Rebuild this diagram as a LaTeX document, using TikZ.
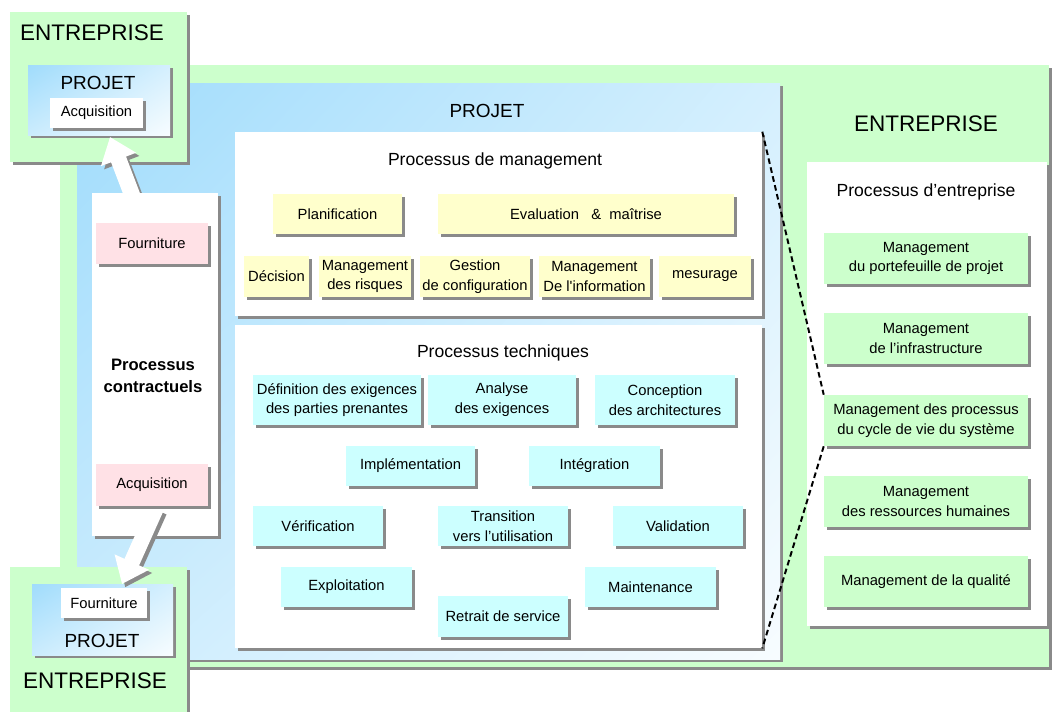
\documentclass[tikz,border=0pt]{standalone}
\usepackage{fontspec}
\setmainfont{Liberation Sans}
\usetikzlibrary{shadows,shadings,arrows.meta}

\definecolor{entgreen}{HTML}{CCFFCC}
\definecolor{projblue}{HTML}{A0DCFC}
\definecolor{mgtyellow}{HTML}{FFFFCC}
\definecolor{techcyan}{HTML}{CCFFFF}
\definecolor{contpink}{HTML}{FFE1E6}
\definecolor{shadegray}{HTML}{8A8A8A}

\tikzset{
  sz/.style 2 args={minimum width=#1*0.025cm, minimum height=#2*0.025cm},
  shad/.style={general shadow={fill=shadegray, shadow xshift=0.08cm, shadow yshift=-0.08cm}},
  box/.style={shad, inner sep=0pt, align=center, font=\fontsize{10.5}{14}\selectfont},
  ybox/.style={box, fill=mgtyellow},
  cbox/.style={box, fill=techcyan},
  gbox/.style={box, fill=entgreen},
  pbox/.style={box, fill=contpink},
  wbox/.style={box, fill=white},
  panel/.style={shad, inner sep=0pt},
  projfill/.style={upper left=projblue, lower left=projblue!55!white,
    upper right=projblue!45!white, lower right=projblue!8!white},
  title/.style={font=\fontsize{12.5}{15}\selectfont, align=center},
  projtitle/.style={font=\fontsize{13.5}{16}\selectfont},
  bigtitle/.style={font=\fontsize{16}{19}\selectfont},
  link/.style={dash pattern=on 4pt off 2.5pt, line width=1.4pt},
  fatarrow/.style={line width=0.4cm, -{Triangle[width=0.9cm,length=0.6cm]}},
}

\begin{document}
\begin{tikzpicture}[x=0.025cm, y=-0.025cm]
  \useasboundingbox (0,0) rectangle (1052,711);

  % grands cadres
  \node[panel, fill=entgreen, sz={989}{602}] (entframe) at (554.5,366) {};
  \node[panel, projfill, sz={703}{576}] (projframe) at (428.5,371) {};
  \node[bigtitle] (entlabel) at (926,124) {ENTREPRISE};
  \node[projtitle] (projlabel) at (487,111) {PROJET};

  % entreprise du haut
  \node[panel, fill=entgreen, sz={177}{150}] (entA) at (98.5,87) {};
  \node[bigtitle] (entAlabel) at (92,33) {ENTREPRISE};
  \node[panel, projfill, sz={142}{70}] (projA) at (99,100) {};
  \node[projtitle] (projAlabel) at (98,83) {PROJET};
  \node[wbox, sz={93}{30}] (acqA) at (96.5,113) {Acquisition};

  % entreprise du bas
  \node[panel, fill=entgreen, sz={177}{150}] (entB) at (98.5,642) {};
  \node[bigtitle] (entBlabel) at (95,681) {ENTREPRISE};
  \node[panel, projfill, sz={141}{71}] (projB) at (102.5,619.5) {};
  \node[projtitle] (projBlabel) at (102,641) {PROJET};
  \node[wbox, sz={86}{30}] (fournB) at (104,603) {Fourniture};

  % processus contractuels
  \coordinate (upTail) at (134,200);
  \coordinate (upTip) at (110,137);
  \draw[fatarrow, shadegray, transform canvas={shift={(0.08cm,-0.08cm)}}] (upTail) -- (upTip);
  \draw[fatarrow, white] (upTail) -- (upTip);
  \node[panel, fill=white, sz={126}{343}] (contract) at (155,364.5) {};
  \node[font=\fontsize{11.8}{15.6}\selectfont\bfseries, align=center] (contractlabel) at (153,376) {Processus\\contractuels};
  \coordinate (downTail) at (156,508);
  \coordinate (downTip) at (122,584);
  \draw[fatarrow, shadegray, transform canvas={shift={(0.08cm,-0.08cm)}}] (downTail) -- (downTip);
  \draw[fatarrow, white] (downTail) -- (downTip);
  \node[pbox, sz={112}{41}] (fournC) at (152,243.5) {Fourniture};
  \node[pbox, sz={112}{42}] (acqC) at (152,485) {Acquisition};

  % processus de management
  \node[panel, fill=white, sz={527}{184}] (mgmt) at (498.5,224) {};
  \node[title] (mgmtlabel) at (495,161) {Processus de management};
  \node[ybox, sz={129}{40}] (plan) at (337.5,214) {Planification};
  \node[ybox, sz={296}{40}] (evalm) at (586,214) {Evaluation\ \ \ \&\ \ maîtrise};
  \node[ybox, sz={65}{41}] (decis) at (276.5,276.5) {Décision};
  \node[ybox, sz={92}{41}] (risq) at (365,276.5) {Management\\des risques};
  \node[ybox, sz={110}{41}] (gconf) at (475,276.5) {Gestion\\de configuration};
  \node[ybox, sz={111}{41}] (minfo) at (594.5,276.5) {Management\\De l\textquotesingle information};
  \node[ybox, sz={92}{41}] (mesur) at (705,276.5) {mesurage};

  % processus techniques
  \node[panel, fill=white, sz={527}{323}] (tech) at (498.5,486.5) {};
  \node[title] (techlabel) at (503,353) {Processus techniques};
  \node[cbox, sz={168}{50}] (defex) at (337,400) {Définition des exigences\\des parties prenantes};
  \node[cbox, sz={148}{50}] (anex) at (502,400) {Analyse\\des exigences};
  \node[cbox, sz={140}{50}] (conarch) at (665,400) {Conception\\des architectures};
  \node[cbox, sz={129}{40}] (impl) at (410.5,466) {Implémentation};
  \node[cbox, sz={131}{40}] (integ) at (594.5,466) {Intégration};
  \node[cbox, sz={130}{40}] (verif) at (318,526) {Vérification};
  \node[cbox, sz={130}{40}] (trans) at (503,526) {Transition\\vers l'utilisation};
  \node[cbox, sz={130}{40}] (valid) at (678,526) {Validation};
  \node[cbox, sz={131}{40}] (exploit) at (346.5,587) {Exploitation};
  \node[cbox, sz={130}{41}] (retrait) at (503,616.5) {Retrait de service};
  \node[cbox, sz={131}{40}] (maint) at (650.5,587) {Maintenance};

  % processus d'entreprise
  \node[panel, fill=white, sz={240}{464}] (entproc) at (927,394) {};
  \node[title] (entproclabel) at (926,192) {Processus d'entreprise};
  \node[gbox, sz={204}{51}] (mport) at (926,258.5) {Management\\du portefeuille de projet};
  \node[gbox, sz={204}{51}] (minfra) at (926,338.5) {Management\\de l'infrastructure};
  \node[gbox, sz={204}{51}] (mproc) at (926,420.5) {Management des processus\\du cycle de vie du système};
  \node[gbox, sz={204}{51}] (mrh) at (926,501.5) {Management\\des ressources humaines};
  \node[gbox, sz={204}{51}] (mqual) at (926,581.5) {Management de la qualité};

  \draw[link] (mgmt.north east) -- (mproc.north west);
  \draw[link] (mproc.south west) -- (tech.south east);
\end{tikzpicture}
\end{document}
